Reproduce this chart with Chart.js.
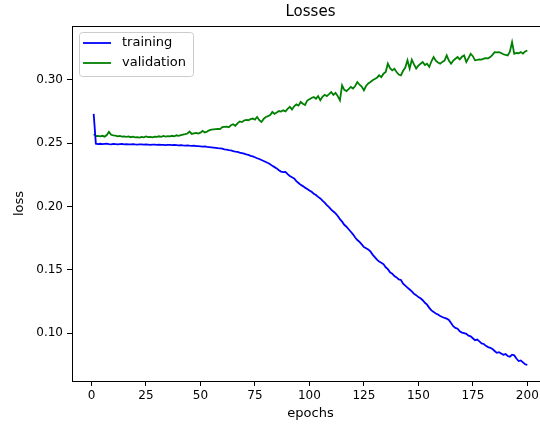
<!DOCTYPE html>
<html>
<head>
<meta charset="utf-8">
<script src="https://cdn.jsdelivr.net/npm/chart.js@4/dist/chart.umd.min.js"></script>
<style>
html, body { margin: 0; padding: 0; background: #fff; overflow: hidden; }
#wrap { width: 540px; height: 427px; overflow: hidden; }
canvas { display: block; }
</style>
</head>
<body>
<div id="wrap"><canvas id="lossChart" width="560" height="427"></canvas></div>
<script>
"use strict";

const chartTitle = "Losses";
const xTitle = "epochs";
const yTitle = "loss";
const seriesNames = ["training", "validation"];
const seriesColors = ["#0000ff", "#008000"];

// epochs 1..200
const epochs = Array.from({ length: 200 }, (_, i) => i + 1);

const trainingLoss = [
  0.2730, 0.2495, 0.2492, 0.2494, 0.2491, 0.2493, 0.2495, 0.2492, 0.2490, 0.2493,
  0.2492, 0.2489, 0.2491, 0.2493, 0.2490, 0.2491, 0.2489, 0.2490, 0.2492, 0.2489,
  0.2488, 0.2490, 0.2489, 0.2487, 0.2489, 0.2488, 0.2486, 0.2488, 0.2487, 0.2486,
  0.2487, 0.2485, 0.2486, 0.2484, 0.2486, 0.2485, 0.2483, 0.2485, 0.2484, 0.2482,
  0.2484, 0.2481, 0.2480, 0.2482, 0.2479, 0.2478, 0.2480, 0.2476, 0.2475, 0.2474,
  0.2472, 0.2474, 0.2470, 0.2468, 0.2466, 0.2464, 0.2462, 0.2459, 0.2457, 0.2455,
  0.2450, 0.2448, 0.2444, 0.2442, 0.2437, 0.2433, 0.2430, 0.2424, 0.2420, 0.2416,
  0.2410, 0.2406, 0.2399, 0.2394, 0.2388, 0.2380, 0.2374, 0.2366, 0.2358, 0.2350,
  0.2342, 0.2333, 0.2320, 0.2310, 0.2300, 0.2285, 0.2275, 0.2270, 0.2272, 0.2255,
  0.2240, 0.2230, 0.2220, 0.2200, 0.2185, 0.2170, 0.2160, 0.2148, 0.2138, 0.2125,
  0.2115, 0.2100, 0.2090, 0.2075, 0.2063, 0.2045, 0.2030, 0.2010, 0.1995, 0.1975,
  0.1960, 0.1945, 0.1925, 0.1900, 0.1880, 0.1855, 0.1840, 0.1820, 0.1800, 0.1780,
  0.1755, 0.1735, 0.1720, 0.1700, 0.1680, 0.1670, 0.1660, 0.1645, 0.1620, 0.1600,
  0.1580, 0.1565, 0.1555, 0.1545, 0.1520, 0.1505, 0.1480, 0.1470, 0.1450, 0.1440,
  0.1425, 0.1420, 0.1390, 0.1375, 0.1360, 0.1345, 0.1330, 0.1310, 0.1300, 0.1285,
  0.1275, 0.1260, 0.1240, 0.1225, 0.1200, 0.1180, 0.1168, 0.1155, 0.1148, 0.1135,
  0.1128, 0.1120, 0.1115, 0.1105, 0.1080, 0.1055, 0.1042, 0.1035, 0.1015, 0.1005,
  0.1000, 0.0995, 0.0980, 0.0975, 0.0960, 0.0945, 0.0950, 0.0935, 0.0920, 0.0915,
  0.0900, 0.0890, 0.0885, 0.0875, 0.0860, 0.0845, 0.0850, 0.0840, 0.0830, 0.0835,
  0.0820, 0.0815, 0.0830, 0.0825, 0.0800, 0.0780, 0.0785, 0.0770, 0.0755, 0.0750
];

const validationLoss = [
  0.2570, 0.2555, 0.2556, 0.2553, 0.2557, 0.2550, 0.2563, 0.2588, 0.2565, 0.2560,
  0.2558, 0.2552, 0.2556, 0.2550, 0.2553, 0.2549, 0.2552, 0.2546, 0.2550, 0.2545,
  0.2547, 0.2543, 0.2548, 0.2545, 0.2552, 0.2546, 0.2549, 0.2545, 0.2551, 0.2548,
  0.2553, 0.2549, 0.2556, 0.2551, 0.2555, 0.2552, 0.2557, 0.2553, 0.2561, 0.2556,
  0.2562, 0.2566, 0.2570, 0.2575, 0.2590, 0.2572, 0.2576, 0.2580, 0.2574, 0.2582,
  0.2595, 0.2583, 0.2590, 0.2600, 0.2605, 0.2608, 0.2610, 0.2612, 0.2610, 0.2625,
  0.2628, 0.2630, 0.2625, 0.2640, 0.2648, 0.2636, 0.2655, 0.2670, 0.2665, 0.2678,
  0.2683, 0.2680, 0.2688, 0.2693, 0.2685, 0.2705, 0.2680, 0.2666, 0.2690, 0.2705,
  0.2712, 0.2720, 0.2745, 0.2730, 0.2740, 0.2752, 0.2748, 0.2758, 0.2750, 0.2770,
  0.2785, 0.2765, 0.2790, 0.2805, 0.2795, 0.2824, 0.2810, 0.2800, 0.2835, 0.2845,
  0.2855, 0.2863, 0.2850, 0.2870, 0.2837, 0.2865, 0.2880, 0.2870, 0.2885, 0.2902,
  0.2880, 0.2895, 0.2870, 0.2837, 0.2955, 0.2920, 0.2910, 0.2925, 0.2942, 0.2930,
  0.2950, 0.2981, 0.2960, 0.2945, 0.2916, 0.2950, 0.2970, 0.2981, 0.2995, 0.3005,
  0.3015, 0.3034, 0.3020, 0.3047, 0.3060, 0.3126, 0.3090, 0.3073, 0.3085, 0.3060,
  0.3040, 0.3034, 0.3070, 0.3095, 0.3152, 0.3087, 0.3157, 0.3120, 0.3087, 0.3110,
  0.3125, 0.3139, 0.3115, 0.3125, 0.3100, 0.3145, 0.3178, 0.3150, 0.3135, 0.3126,
  0.3140, 0.3150, 0.3191, 0.3150, 0.3126, 0.3150, 0.3165, 0.3178, 0.3160, 0.3180,
  0.3191, 0.3139, 0.3170, 0.3204, 0.3185, 0.3152, 0.3155, 0.3160, 0.3158, 0.3165,
  0.3170, 0.3168, 0.3178, 0.3195, 0.3217, 0.3215, 0.3217, 0.3210, 0.3200, 0.3195,
  0.3191, 0.3220, 0.3296, 0.3204, 0.3210, 0.3208, 0.3217, 0.3205, 0.3222, 0.3230
];

const xTicks = [0, 25, 50, 75, 100, 125, 150, 175, 200];
const yTicks = [0.10, 0.15, 0.20, 0.25, 0.30];

const FONT = '"DejaVu Sans", sans-serif';
Chart.defaults.font.family = FONT;
Chart.defaults.color = "#000";

// top spine, title and a matplotlib-like legend
const decorPlugin = {
  id: "decor",
  afterDraw(chart) {
    const { ctx, chartArea: a } = chart;
    ctx.save();
    ctx.strokeStyle = "#000";
    ctx.lineWidth = 1;
    ctx.beginPath();
    ctx.moveTo(a.left, Math.round(a.top) + 0.5);
    ctx.lineTo(a.right, Math.round(a.top) + 0.5);
    ctx.stroke();

    ctx.fillStyle = "#000";
    ctx.font = "15px " + FONT;
    ctx.textAlign = "center";
    ctx.textBaseline = "middle";
    ctx.fillText(chartTitle, (a.left + a.right) / 2, 12);

    // legend frame
    ctx.beginPath();
    ctx.roundRect(79.5, 32.5, 114, 44, 3);
    ctx.fillStyle = "rgba(255,255,255,0.8)";
    ctx.fill();
    ctx.strokeStyle = "#cccccc";
    ctx.stroke();

    ctx.font = "13px " + FONT;
    ctx.textAlign = "left";
    seriesNames.forEach((name, i) => {
      const y = 43 + i * 20;
      ctx.strokeStyle = seriesColors[i];
      ctx.lineWidth = 1.8;
      ctx.beginPath();
      ctx.moveTo(83, y);
      ctx.lineTo(111, y);
      ctx.stroke();
      ctx.fillStyle = "#000";
      ctx.fillText(name, 122, y);
    });
    ctx.restore();
  }
};

const toPoints = (values) => values.map((v, i) => ({ x: epochs[i], y: v }));

new Chart(document.getElementById("lossChart"), {
  type: "line",
  data: {
    datasets: [
      { label: seriesNames[0], data: toPoints(trainingLoss), borderColor: seriesColors[0], borderWidth: 1.8, pointRadius: 0, fill: false },
      { label: seriesNames[1], data: toPoints(validationLoss), borderColor: seriesColors[1], borderWidth: 1.8, pointRadius: 0, fill: false }
    ]
  },
  options: {
    responsive: false,
    animation: false,
    devicePixelRatio: 1,
    layout: { padding: { left: 0, right: 11, top: 26, bottom: 0 } },
    plugins: { legend: { display: false }, title: { display: false }, tooltip: { enabled: false } },
    scales: {
      x: {
        type: "linear",
        min: -8.95, max: 209.95,
        afterBuildTicks: (s) => { s.ticks = xTicks.map(v => ({ value: v })); },
        afterFit: (s) => { s.height = 46; },
        grid: { display: true, drawOnChartArea: false, drawTicks: true, tickLength: 5, color: "#000" },
        border: { display: true, color: "#000", width: 1 },
        ticks: { font: { size: 12 }, padding: 3, maxRotation: 0, color: "#000" },
        title: { display: true, text: xTitle, font: { size: 13 }, padding: { top: 0, bottom: 6 }, color: "#000" }
      },
      y: {
        type: "linear",
        min: 0.0623, max: 0.3423,
        afterBuildTicks: (s) => { s.ticks = yTicks.map(v => ({ value: v })); },
        afterFit: (s) => { s.width = 72; },
        grid: { display: true, drawOnChartArea: false, drawTicks: true, tickLength: 5, color: "#000" },
        border: { display: true, color: "#000", width: 1 },
        ticks: { font: { size: 12 }, padding: 4, color: "#000", callback: (v) => Number(v).toFixed(2) },
        title: { display: true, text: yTitle, font: { size: 13 }, padding: { top: 12, bottom: 0 }, color: "#000" }
      }
    }
  },
  plugins: [decorPlugin]
});
</script>
</body>
</html>
